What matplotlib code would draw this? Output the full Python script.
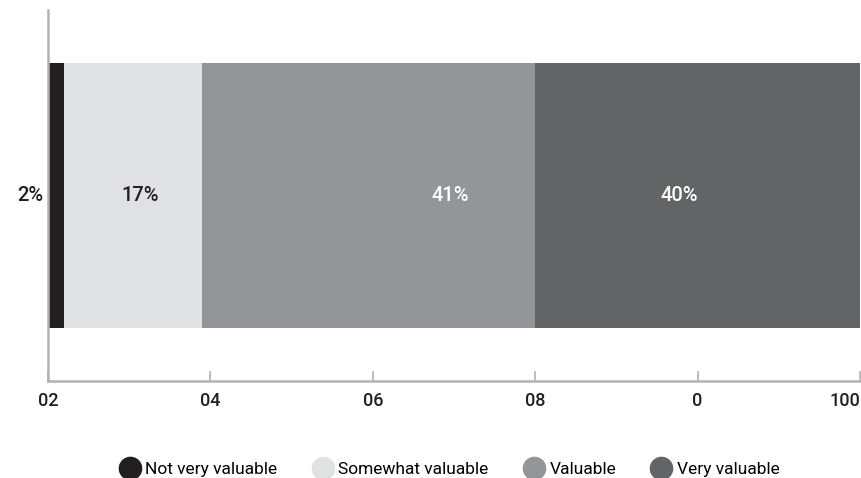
import matplotlib.pyplot as plt
from matplotlib.lines import Line2D

plt.rcParams['font.family'] = ['Roboto', 'DejaVu Sans']

categories = ['Not very valuable', 'Somewhat valuable', 'Valuable', 'Very valuable']
values = [2, 17, 41, 40]
colors = ['#231f20', '#e0e1e3', '#939598', '#636466']
label_colors = ['#231f20', '#231f20', '#ffffff', '#ffffff']
# where each value label sits on the x axis (as in the original)
label_x = [-0.6, 11.3, 49.5, 77.8]
tick_pos = [0, 20, 40, 60, 80, 100]
tick_labels = ['02', '04', '06', '08', '0', '100']

fig = plt.figure(figsize=(8.61, 4.78), dpi=100)
ax = fig.add_axes([0.0557, 0.203, 0.9431, 0.776])

left = 0
for v, c in zip(values, colors):
    ax.barh(0, v, left=left, height=0.717, color=c, linewidth=0)
    left += v

for v, x, tc in zip(values, label_x, label_colors):
    ha = 'right' if x < 0 else 'center'
    ax.text(x, 0, '%d%%' % v, ha=ha, va='center', color=tc, fontsize=14.5,
            fontweight='medium')

ax.set_xlim(0, 100)
ax.set_ylim(-0.5, 0.5)
ax.set_yticks([])
ax.set_xticks(tick_pos)
ax.set_xticklabels(tick_labels, fontsize=13, color='#231f20', fontweight='medium')
ax.get_xticklabels()[-1].set_ha('right')
ax.tick_params(axis='x', direction='in', length=7, width=1.2, color='#b3b3b6', pad=8)
for s in ['top', 'right']:
    ax.spines[s].set_visible(False)
for s in ['left', 'bottom']:
    ax.spines[s].set_color('#b3b3b6')
    ax.spines[s].set_linewidth(1.8)

handles = [Line2D([], [], marker='o', linestyle='', markersize=16,
                  markerfacecolor=c, markeredgecolor=c) for c in colors]
fig.legend(handles, categories, loc='lower center', bbox_to_anchor=(0.522, -0.03),
           ncol=4, frameon=False, handletextpad=0.3,
           columnspacing=2.0, handlelength=1.2,
           prop={'size': 12.5, 'family': ['Roboto', 'DejaVu Sans']})

fig.savefig('out.png', dpi=100)
